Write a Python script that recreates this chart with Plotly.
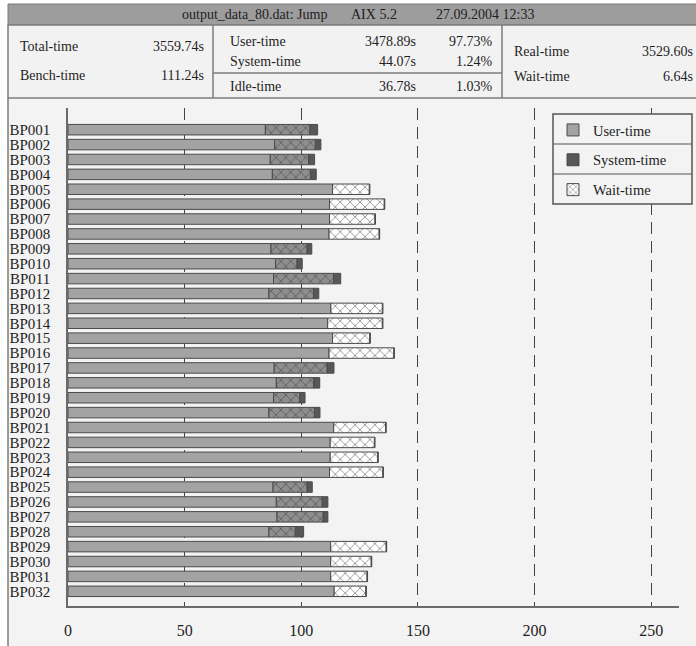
import plotly.graph_objects as go

# ---------------- data ----------------
processes = ["BP%03d" % i for i in range(1, 33)]
user_time = [84.6, 88.6, 86.7, 87.6, 113.4, 112.1, 112.1, 111.9,
             87.0, 89.0, 88.1, 86.1, 112.7, 111.3, 113.4, 111.9,
             88.4, 89.3, 88.1, 86.1, 113.9, 112.4, 112.4, 112.1,
             87.9, 89.3, 89.6, 86.1, 112.6, 112.6, 112.6, 114.1]
wait_time = [19.0, 17.4, 16.4, 16.3, 15.7, 23.4, 19.4, 21.4,
             15.4, 9.1, 25.7, 19.1, 22.0, 23.4, 15.9, 27.7,
             22.6, 16.0, 11.2, 19.5, 22.2, 18.9, 20.3, 22.8,
             14.5, 19.6, 19.7, 11.3, 23.7, 17.3, 15.5, 13.5]
system_time = [3.4, 2.4, 2.6, 2.5, 0.3, 0.3, 0.3, 0.3,
               2.1, 2.3, 3.1, 2.3, 0.3, 0.3, 0.3, 0.3,
               3.0, 2.6, 2.3, 2.4, 0.3, 0.3, 0.3, 0.3,
               2.3, 2.5, 2.1, 3.6, 0.3, 0.3, 0.3, 0.3]
x_ticks = [0, 50, 100, 150, 200, 250]

title_parts = ["output_data_80.dat: Jump", "AIX 5.2", "27.09.2004 12:33"]
left_labels = ["Total-time", "Bench-time"]
left_values = ["3559.74s", "111.24s"]
mid_labels = ["User-time", "System-time", "Idle-time"]
mid_values = ["3478.89s", "44.07s", "36.78s"]
mid_percent = ["97.73%", "1.24%", "1.03%"]
right_labels = ["Real-time", "Wait-time"]
right_values = ["3529.60s", "6.64s"]

# ---------------- geometry helpers ----------------
W, H = 696, 646
L, R, T, B = 68, 17, 108, 40
PW, PH = W - L - R, H - T - B
FONT = "Liberation Serif, Times New Roman, serif"
BG = "#f3f3f3"
TXT = "#1e1e1e"


def px(x):
    return (x - L) / PW


def py(y):
    return (H - B - y) / PH


USER_C = "#a3a3a3"
SYS_C = "#575757"
EDGE = "#4a4a4a"
hatch_bg = ["#8e8e8e" if s > 1 else "#ffffff" for s in system_time]
wait_base = user_time
sys_base = [u + w for u, w in zip(user_time, wait_time)]

fig = go.Figure()
fig.add_trace(go.Bar(
    y=processes, x=user_time, orientation="h", name="User-time",
    marker=dict(color=USER_C, line=dict(color=EDGE, width=1)),
    legendgroup="u"))
fig.add_trace(go.Bar(
    y=processes, x=system_time, base=sys_base, orientation="h", name="System-time",
    marker=dict(color=SYS_C, line=dict(color=EDGE, width=1)),
    legendgroup="s"))
fig.add_trace(go.Bar(
    y=processes, x=wait_time, base=wait_base, orientation="h", name="Wait-time",
    marker=dict(color="#ffffff", line=dict(color=EDGE, width=1),
                pattern=dict(shape="x", size=7, solidity=0.25,
                             fgcolor="#333333", bgcolor=hatch_bg)),
    legendgroup="w", showlegend=False))
# legend entry for the hatched series
fig.add_trace(go.Bar(
    y=[None], x=[None], orientation="h", name="Wait-time",
    marker=dict(color="#ffffff", line=dict(color=EDGE, width=1),
                pattern=dict(shape="x", size=5, solidity=0.3,
                             fgcolor="#333333", bgcolor="#ffffff")),
    legendgroup="w"))

shapes = []


def rect(x0, y0, x1, y1, fill, line_c=None, lw=0, layer="below"):
    d = dict(type="rect", xref="paper", yref="paper",
             x0=px(x0), x1=px(x1), y0=py(y0), y1=py(y1),
             fillcolor=fill, layer=layer)
    d["line"] = dict(color=line_c, width=lw) if lw else dict(width=0, color="rgba(0,0,0,0)")
    shapes.append(d)


def line(x0, y0, x1, y1, c="#8a8a8a", w=1.5, layer="below"):
    shapes.append(dict(type="line", xref="paper", yref="paper",
                       x0=px(x0), x1=px(x1), y0=py(y0), y1=py(y1),
                       layer=layer, line=dict(color=c, width=w)))


# chart frame background
rect(8, 98, 700, 646, BG)
line(8, 98, 8, 646, c="#7d7d7d", w=1.5)
# header band and table
rect(8, 4, 700, 25, "#9d9d9d", "#7a7a7a", 1)
rect(8, 25, 700, 98, "#f2f2f2", "#7d7d7d", 1.5)
line(213, 25, 213, 98, c="#7d7d7d", w=1.5)
line(502, 25, 502, 98, c="#7d7d7d", w=1.5)
line(213, 73, 502, 73, c="#7d7d7d", w=1.5)
# legend box
rect(553, 114, 692, 204, BG, "#555555", 1.5, layer="above")
line(553, 144, 692, 144, c="#555555", w=1.2, layer="above")
line(553, 174, 692, 174, c="#555555", w=1.2, layer="above")

ann = []


def text(t, x, y, anchor="left", size=14):
    ann.append(dict(text=t, xref="paper", yref="paper", x=px(x), y=py(y),
                    xanchor=anchor, yanchor="middle", showarrow=False,
                    font=dict(family=FONT, size=size, color=TXT)))


for t, x in zip(title_parts, [180, 349, 434]):
    text(t, x, 14)
for lab, val, y in zip(left_labels, left_values, [46, 75]):
    text(lab, 18, y)
    text(val, 206, y, "right")
for lab, val, pc, y in zip(mid_labels, mid_values, mid_percent, [41, 62, 87]):
    text(lab, 228, y)
    text(val, 418, y, "right")
    text(pc, 495, y, "right")
for lab, val, y in zip(right_labels, right_values, [52, 76]):
    text(lab, 512, y)
    text(val, 695, y, "right")

fig.update_layout(
    width=W, height=H,
    margin=dict(l=L, r=R, t=T, b=B, autoexpand=False),
    paper_bgcolor="#ffffff", plot_bgcolor="rgba(0,0,0,0)",
    barmode="overlay", bargap=0.295,
    font=dict(family=FONT, size=15, color=TXT),
    shapes=shapes, annotations=ann,
    legend=dict(x=px(553), y=py(114), xanchor="left", yanchor="top",
                bgcolor="rgba(0,0,0,0)", borderwidth=0,
                font=dict(family=FONT, size=14.5, color=TXT),
                tracegroupgap=8, traceorder="grouped"),
    xaxis=dict(range=[0, 261.9], tickmode="array", tickvals=x_ticks,
               ticktext=[str(v) for v in x_ticks], ticks="",
               showgrid=True, gridcolor="#444444", griddash="12px,7px",
               gridwidth=1, zeroline=False, showline=True,
               linecolor="#6a6a6a", linewidth=1.5,
               tickfont=dict(family=FONT, size=16, color=TXT),
               ticklabelstandoff=9, automargin=False, fixedrange=True),
    yaxis=dict(type="category", categoryorder="array", categoryarray=processes,
               tickmode="array", tickvals=processes, ticktext=processes,
               range=[31.987, -1.457], ticks="", showgrid=False,
               showline=True, linecolor="#6a6a6a", linewidth=1.5,
               tickfont=dict(family=FONT, size=15, color=TXT),
               ticklabelstandoff=13, automargin=False, fixedrange=True),
)

fig.write_html("out.html", config={"displayModeBar": False},
               post_script="document.body.style.margin='0';"
                           "document.body.style.padding='0';"
                           "document.body.style.overflow='hidden';")
